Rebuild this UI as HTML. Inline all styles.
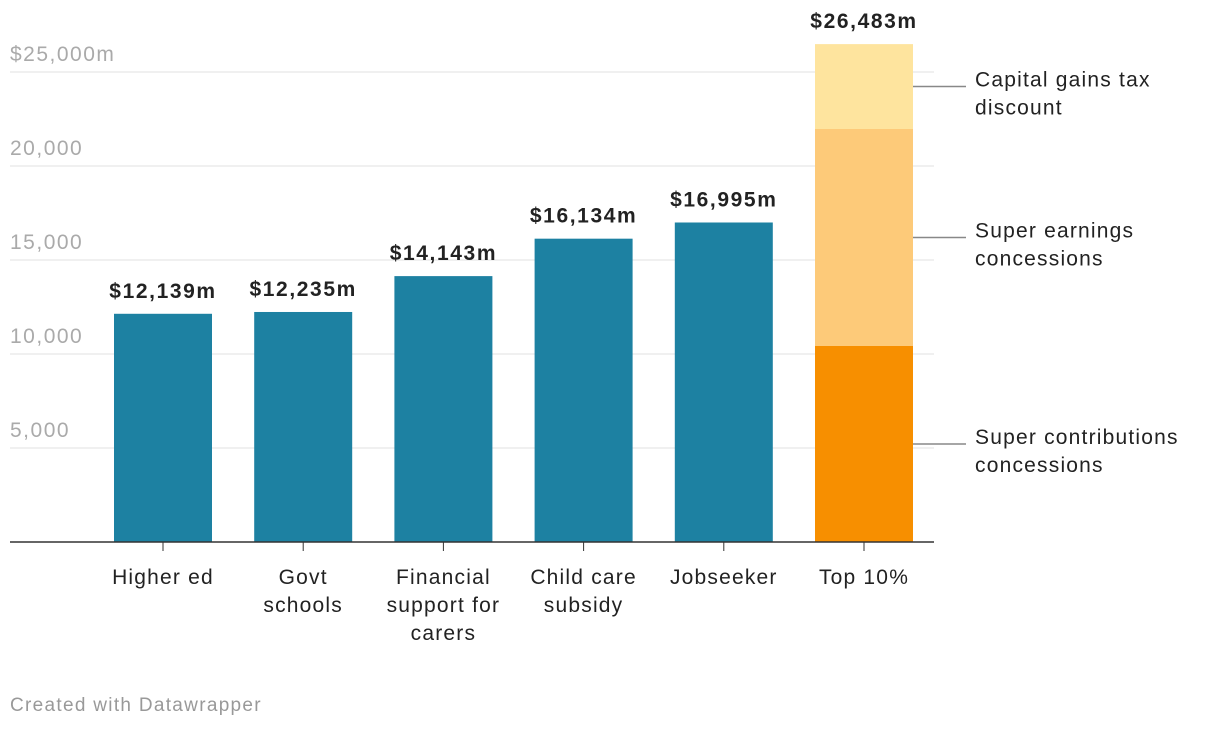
<!DOCTYPE html>
<html><head><meta charset="utf-8">
<style>
body{margin:0;background:#fff;width:1220px;height:728px;overflow:hidden;font-family:"Liberation Sans",sans-serif;}
svg text{font-family:"Liberation Sans",sans-serif;}
</style></head>
<body>
<svg id="chart" width="1220" height="728" xmlns="http://www.w3.org/2000/svg"></svg>
<script>
const categories=[["Higher ed"],["Govt","schools"],["Financial","support for","carers"],["Child care","subsidy"],["Jobseeker"],["Top 10%"]];
const values=[12139,12235,14143,16134,16995,null];
const stackNames=[["Super contributions","concessions"],["Super earnings","concessions"],["Capital gains tax","discount"]];
const stackValues=[10426,11542,4515];
const stackTotal="$26,483m";
const ticks=[5000,10000,15000,20000,25000];
const tickLabels=["5,000","10,000","15,000","20,000","$25,000m"];
const stackColors=["#f78f00","#fdca79","#fee49e"];

const svg=document.getElementById('chart');
const NS="http://www.w3.org/2000/svg";
const y0=542, pxPer=470/25000;
const yS=v=>y0-v*pxPer;
const x0=114, step=140.2, bw=98;
const xS=i=>x0+i*step;
function mk(t,a,txt){const e=document.createElementNS(NS,t);for(const k in a)e.setAttribute(k,a[k]);if(txt!=null)e.textContent=txt;svg.appendChild(e);return e;}
const fmt=v=>"$"+v.toLocaleString("en-US")+"m";

ticks.forEach((t,i)=>{
  const l=mk('line',{x1:10,x2:934,y1:yS(t),y2:yS(t),stroke:'#e0e0e0','stroke-width':1});
  
  
  const tx=mk('text',{x:10,y:yS(t)-11,fill:'#aaa','font-size':21,'letter-spacing':1.5},tickLabels[i]);
  
  
});

values.forEach((v,i)=>{
  const x=xS(i);
  if(v!=null){
    const r=mk('rect',{x:x,y:yS(v),width:bw,height:v*pxPer,fill:'#1d81a2'});
    
    
    const t=mk('text',{x:x+bw/2,y:yS(v)-16,'text-anchor':'middle','font-size':21,'font-weight':'bold',fill:'#222','letter-spacing':1.6},fmt(v));
    
    
  } else {
    let cum=0;
    stackValues.forEach((sv,j)=>{
      const r=mk('rect',{x:x,y:yS(cum+sv),width:bw,height:sv*pxPer,fill:stackColors[j]});
      
      
      const my=yS(cum+sv/2);
      const ln=mk('line',{x1:x+bw,x2:x+bw+53,y1:my,y2:my,stroke:'#888','stroke-width':1.5});
      
      
      stackNames[j].forEach((s,k)=>{
        const t=mk('text',{x:975,y:my+8+k*28-14+6,'font-size':21,fill:'#222','letter-spacing':1.2},s);
        
        
      });
      cum+=sv;
    });
    const t=mk('text',{x:x+bw/2,y:yS(cum)-16,'text-anchor':'middle','font-size':21,'font-weight':'bold',fill:'#222','letter-spacing':1.6},stackTotal);
    
    
  }
  const tk=mk('line',{x1:x+bw/2,x2:x+bw/2,y1:y0,y2:y0+9,stroke:'#333','stroke-width':1});
  
  
  categories[i].forEach((s,k)=>{
    const t=mk('text',{x:x+bw/2,y:584+k*28,'text-anchor':'middle','font-size':21,fill:'#222','letter-spacing':1.2},s);
    
    
  });
});
const base=mk('line',{x1:10,x2:934,y1:y0,y2:y0,stroke:'#333','stroke-width':1.5});


const ft=mk('text',{x:10,y:711,'font-size':19,fill:'#999','letter-spacing':1.3},"Created with Datawrapper");


</script>
</body></html>
